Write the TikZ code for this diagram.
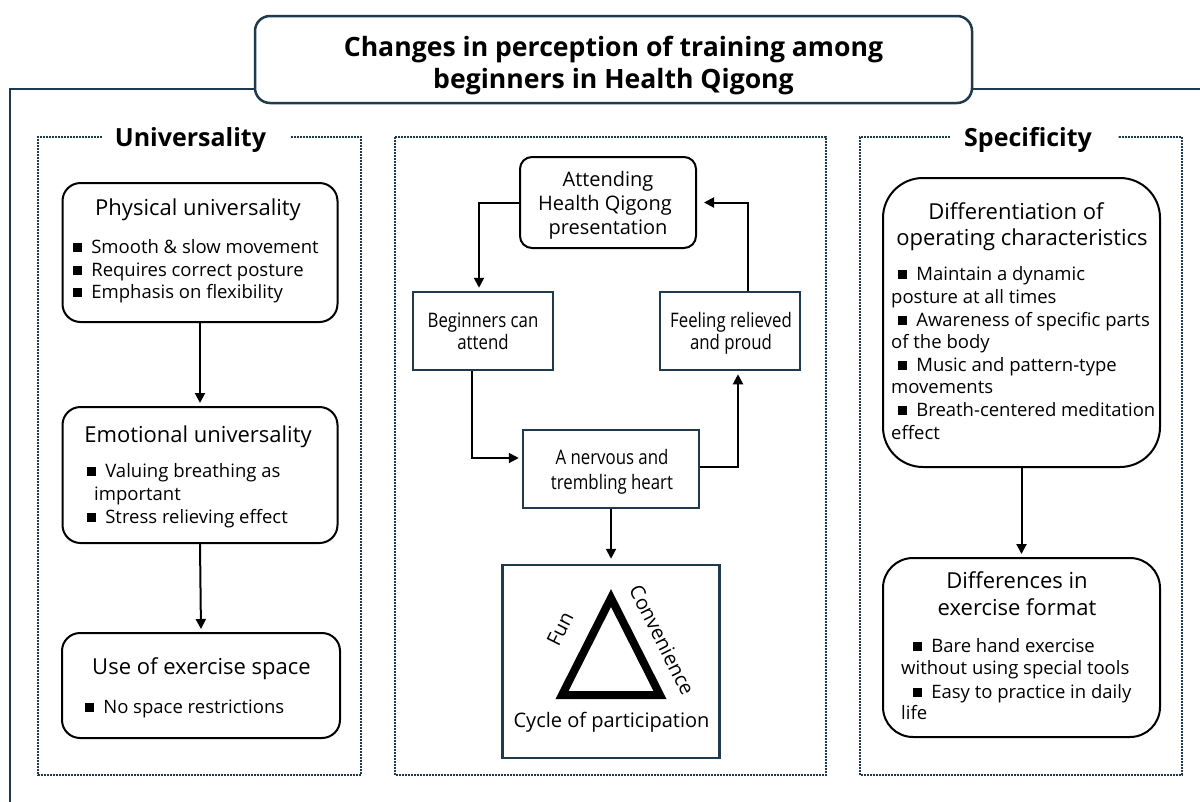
\documentclass[tikz,border=0pt]{standalone}
\usepackage{fontspec}
\setmainfont{Open Sans}
\newfontfamily\condfont{Open Sans}[FakeStretch=0.84]
\usetikzlibrary{arrows.meta}
\definecolor{navy}{HTML}{1E3A4C}
\newcommand{\bsq}{\rule[0.1em]{0.48em}{0.48em}\hspace{0.5em}}

\begin{document}
\begin{tikzpicture}[x=1pt,y=-1pt,
  every node/.style={inner sep=0pt, text depth=0pt},
  maintitle/.style={font=\fontsize{26.6}{30}\selectfont\bfseries, text height=19pt},
  paneltitle/.style={font=\fontsize{25}{30}\selectfont\bfseries, text height=17.8pt},
  head/.style={font=\fontsize{22}{26}\selectfont, text height=15.7pt},
  bt/.style={font=\fontsize{18.5}{22}\selectfont, text height=13.2pt, anchor=west},
  ct/.style={font=\fontsize{20}{24}\selectfont, text height=14.3pt},
  cd/.style={font=\fontsize{20}{24}\condfont, text height=14.3pt},
  rbox/.style={draw=black, line width=2pt, rounded corners=18pt, fill=white},
  sbox/.style={draw=navy, line width=2.5pt, fill=white},
  panel/.style={draw=navy, line width=2.2pt, dash pattern=on 1.9pt off 1.1pt},
  frame/.style={draw=navy, line width=2.5pt},
  arr/.style={-{Triangle[length=10pt,width=10pt]}, line width=2pt, shorten >=3pt},
]
\useasboundingbox (0,0) rectangle (1200,801);

% outer frame leaving the title box
\coordinate (fl) at (255,89);
\coordinate (fr) at (972,89);
\draw[frame] (fl) -- (10,89) -- (10,803);
\draw[frame] (fr) -- (1202,89);

% title
\node[draw=navy, line width=2.5pt, rounded corners=15pt, fill=white,
      minimum width=717pt, minimum height=87pt] (title) at (613.5,59.5) {};
\node[maintitle] (t1) at (613.5,47) {Changes in perception of training among};
\node[maintitle] (t2) at (613.5,79) {beginners in Health Qigong};

% dotted panels
\draw[panel] (102,137) -- (38,137) -- (38,775) -- (361,775) -- (361,137) -- (291,137);
\node[paneltitle] (univ) at (190.5,138) {Universality};
\draw[panel] (395,137) rectangle (826,775);
\draw[panel] (950,137) -- (860,137) -- (860,775) -- (1182,775) -- (1182,137) -- (1118,137);
\node[paneltitle] (spec) at (1028,138) {Specificity};

% ---------- left column ----------
\node[rbox, minimum width=275pt, minimum height=139pt] (phys) at (200,252.5) {};
\node[head] (physh) at (198,208) {Physical universality};
\node[bt] (p1) at (73,247) {\bsq Smooth \& slow movement};
\node[bt] (p2) at (73,270) {\bsq Requires correct posture};
\node[bt] (p3) at (73,292) {\bsq Emphasis on flexibility};

\node[rbox, minimum width=275pt, minimum height=136pt] (emo) at (200,475) {};
\node[head] (emoh) at (198,435) {Emotional universality};
\node[bt] (e1) at (87,471) {\bsq Valuing breathing as};
\node[bt] (e2) at (94,494) {important};
\node[bt] (e3) at (87,517) {\bsq Stress relieving effect};

\node[rbox, minimum width=278pt, minimum height=105pt] (space) at (201,685.5) {};
\node[head] (spaceh) at (201.5,667) {Use of exercise space};
\node[bt] (s1) at (85,707) {\bsq No space restrictions};

\draw[arr] (phys.south) -- (emo.north);
\draw[arr] (emo.south) -- (space.north);

% ---------- centre column ----------
\node[draw=black, line width=2pt, rounded corners=12pt, fill=white,
      minimum width=176pt, minimum height=91pt] (att) at (608,202.5) {};
\node[ct] (a1) at (608,179) {Attending};
\node[ct] (a2) at (605,203) {Health Qigong};
\node[ct] (a3) at (608,227) {presentation};

\node[sbox, minimum width=140pt, minimum height=78pt] (beg) at (483,331) {};
\node[cd] (b1t) at (483,320) {Beginners can};
\node[cd] (b2t) at (483,342) {attend};

\node[sbox, minimum width=140pt, minimum height=78pt] (feel) at (730,331) {};
\node[cd] (f1t) at (731,320) {Feeling relieved};
\node[cd] (f2t) at (731,342) {and proud};

\node[sbox, minimum width=176pt, minimum height=78pt] (nerv) at (611,469) {};
\node[cd] (n1t) at (612,457) {A nervous and};
\node[cd] (n2t) at (612,482) {trembling heart};

\node[sbox, minimum width=217pt, minimum height=193pt] (cyc) at (611,661.5) {};
\draw[line width=8pt, miter limit=10] (611,598) -- (562,695) -- (660,695) -- cycle;
\node[ct, rotate=63.2] (fun) at (560,629) {Fun};
\node[ct, rotate=-63.2] (conv) at (662,640) {Convenience};
\node[ct] (cyct) at (611.5,720) {Cycle of participation};

\coordinate (k1) at (479,202.5);
\coordinate (k2) at (472,458);
\coordinate (k3) at (738,467);
\coordinate (k4) at (748,202.5);
\draw[arr] (att.west) -- (k1) -- (k1 |- beg.north);
\draw[arr] (k2 |- beg.south) -- (k2) -- (k2 -| nerv.west);
\draw[arr] (k3 -| nerv.east) -- (k3) -- (k3 |- feel.south);
\draw[arr, shorten >=7pt] (k4 |- feel.north) -- (k4) -- (att.east);
\draw[arr, shorten >=5pt] (nerv.south) -- (cyc.north);

% ---------- right column ----------
\node[rbox, rounded corners=40pt, minimum width=277pt, minimum height=289pt] (diff) at (1021.5,322.5) {};
\node[head] (dh1) at (1016,212) {Differentiation of};
\node[head] (dh2) at (1022,238) {operating characteristics};
\node[bt] (d1) at (898,274) {\bsq Maintain a dynamic};
\node[bt] (d2) at (891,297) {posture at all times};
\node[bt] (d3) at (898,320) {\bsq Awareness of specific parts};
\node[bt] (d4) at (891,342) {of the body};
\node[bt] (d5) at (898,365) {\bsq Music and pattern-type};
\node[bt] (d6) at (891,387) {movements};
\node[bt] (d7) at (898,410) {\bsq Breath-centered meditation};
\node[bt] (d8) at (891,433) {effect};

\node[rbox, rounded corners=30pt, minimum width=277pt, minimum height=179pt] (fmt) at (1021.5,647.5) {};
\node[head] (fh1) at (1017,581) {Differences in};
\node[head] (fh2) at (1017,608) {exercise format};
\node[bt] (g1) at (913,646) {\bsq Bare hand exercise};
\node[bt] (g2) at (901,668) {without using special tools};
\node[bt] (g3) at (913,692) {\bsq Easy to practice in daily};
\node[bt] (g4) at (901,713) {life};

\draw[arr] (diff.south) -- (fmt.north);
\end{tikzpicture}
\end{document}
